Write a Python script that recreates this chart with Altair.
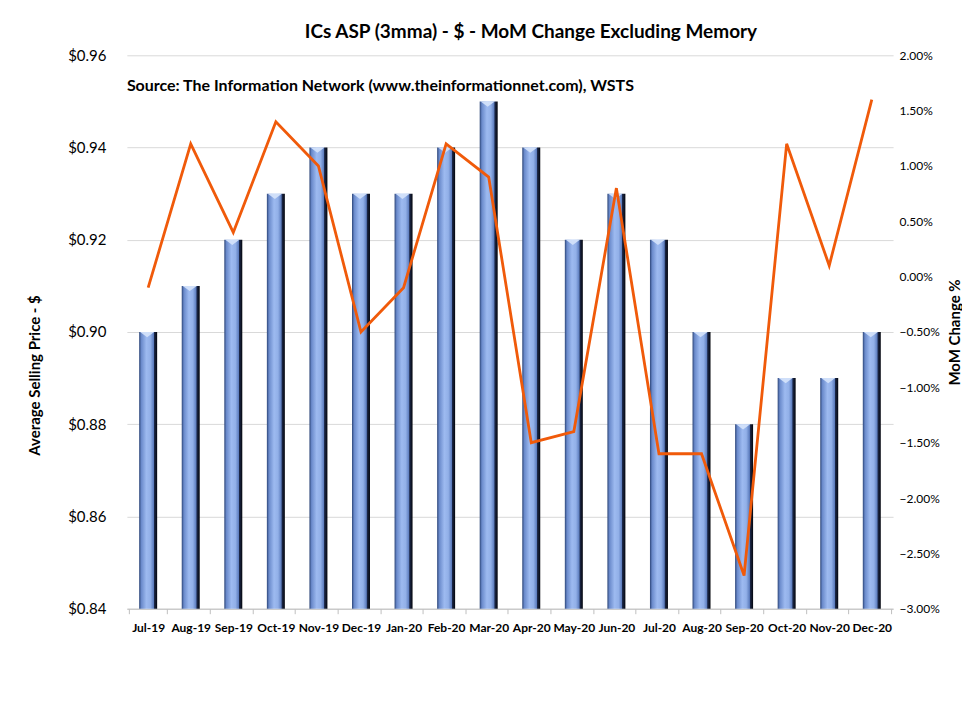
import altair as alt
import pandas as pd

months = ["Jul-19", "Aug-19", "Sep-19", "Oct-19", "Nov-19", "Dec-19", "Jan-20", "Feb-20", "Mar-20",
          "Apr-20", "May-20", "Jun-20", "Jul-20", "Aug-20", "Sep-20", "Oct-20", "Nov-20", "Dec-20"]
asp = [0.90, 0.91, 0.92, 0.93, 0.94, 0.93, 0.93, 0.94, 0.95,
       0.94, 0.92, 0.93, 0.92, 0.90, 0.88, 0.89, 0.89, 0.90]
mom_pct = [-0.1, 1.2, 0.4, 1.4, 1.0, -0.5, -0.1, 1.2, 0.9,
           -1.5, -1.4, 0.8, -1.6, -1.6, -2.7, 1.2, 0.1, 1.6]
asp_ticks = [0.84, 0.86, 0.88, 0.90, 0.92, 0.94, 0.96]
mom_ticks = [-0.03, -0.025, -0.02, -0.015, -0.01, -0.005, 0.0, 0.005, 0.01, 0.015, 0.02]

df = pd.DataFrame({"Month": months, "ASP": asp, "MoM": [v / 100 for v in mom_pct]})

FONT = "Lato"

x_enc = alt.X("Month:N", sort=months, title=None,
              axis=alt.Axis(labelAngle=0, labelFontWeight="bold", labelFontSize=12, labelFont=FONT,
                            labelColor="#000000", labelPadding=9, domainColor="#bfbfbf",
                            tickColor="#bfbfbf", tickSize=5, tickBand="extent", grid=False))

y_left = alt.Y("ASP:Q", scale=alt.Scale(domain=[0.84, 0.96], zero=False, nice=False),
               axis=alt.Axis(values=asp_ticks, format="$.2f", grid=True, gridColor="#d9d9d9",
                             domain=False, ticks=False, labelFontSize=15, labelFont=FONT,
                             labelColor="#000000", labelPadding=21,
                             title="Average Selling Price - $", titleFont=FONT, titleFontSize=15,
                             titleFontWeight="bold", titleColor="#000000", titleX=-92, titleY=320,
                             titleAngle=-90, titleAlign="center", titleBaseline="middle"))

grad = alt.Gradient(
    gradient="linear", x1=0, x2=1, y1=0, y2=0,
    stops=[
        alt.GradientStop(offset=0.0, color="#2c4578"),
        alt.GradientStop(offset=0.12, color="#6a8acb"),
        alt.GradientStop(offset=0.4, color="#9dbaf0"),
        alt.GradientStop(offset=0.62, color="#92b0e8"),
        alt.GradientStop(offset=0.8, color="#5d7dbe"),
        alt.GradientStop(offset=0.84, color="#1b2748"),
        alt.GradientStop(offset=1.0, color="#04060c"),
    ],
)

bars = alt.Chart(df).mark_bar(width=18, color=grad).encode(
    x=x_enc, y=y_left, y2=alt.datum(0.84)
)

caps = alt.Chart(df).mark_point(
    shape="M-1,0 L1,0 L0,0.75 Z", filled=True, size=196, color="#d3e2fa", opacity=0.95, xOffset=-1
).encode(x=alt.X("Month:N", sort=months), y=alt.Y("ASP:Q"))

source = alt.Chart(pd.DataFrame({"t": ["Source: The Information Network (www.theinformationnet.com), WSTS"]})).mark_text(
    align="left", baseline="middle", font=FONT, fontSize=16, fontWeight="bold", color="#000000"
).encode(text="t:N", x=alt.value(0), y=alt.value(31))

left_layer = alt.layer(bars, caps, source)

line = alt.Chart(df).mark_line(color="#f05a0a", strokeWidth=2.8).encode(
    x=alt.X("Month:N", sort=months),
    y=alt.Y("MoM:Q", scale=alt.Scale(domain=[-0.03, 0.02], nice=False, zero=False),
            axis=alt.Axis(orient="right", values=mom_ticks, format=".2%", grid=False, domain=False,
                          ticks=False, labelFontSize=12, labelFont=FONT, labelColor="#000000",
                          labelPadding=6, title="MoM Change %", titleFont=FONT, titleFontSize=15,
                          titleFontWeight="bold", titleColor="#000000", titleX=61, titleY=277,
                          titleAngle=-90, titleAlign="center", titleBaseline="middle"))
)

chart = alt.layer(left_layer, line).resolve_scale(y="independent").properties(
    width=767, height=554,
    autosize=alt.AutoSizeParams(type="none"),
    padding={"left": 119, "top": 47, "right": 69, "bottom": 40},
    title=alt.TitleParams("ICs ASP  (3mma) - $ - MoM Change Excluding Memory", font=FONT, fontSize=19,
                          fontWeight="bold", color="#000000", anchor="middle", dx=21, offset=6),
    background="#ffffff",
).configure_view(stroke=None)

chart.save("out.html", embed_options={"renderer": "svg", "actions": False})
